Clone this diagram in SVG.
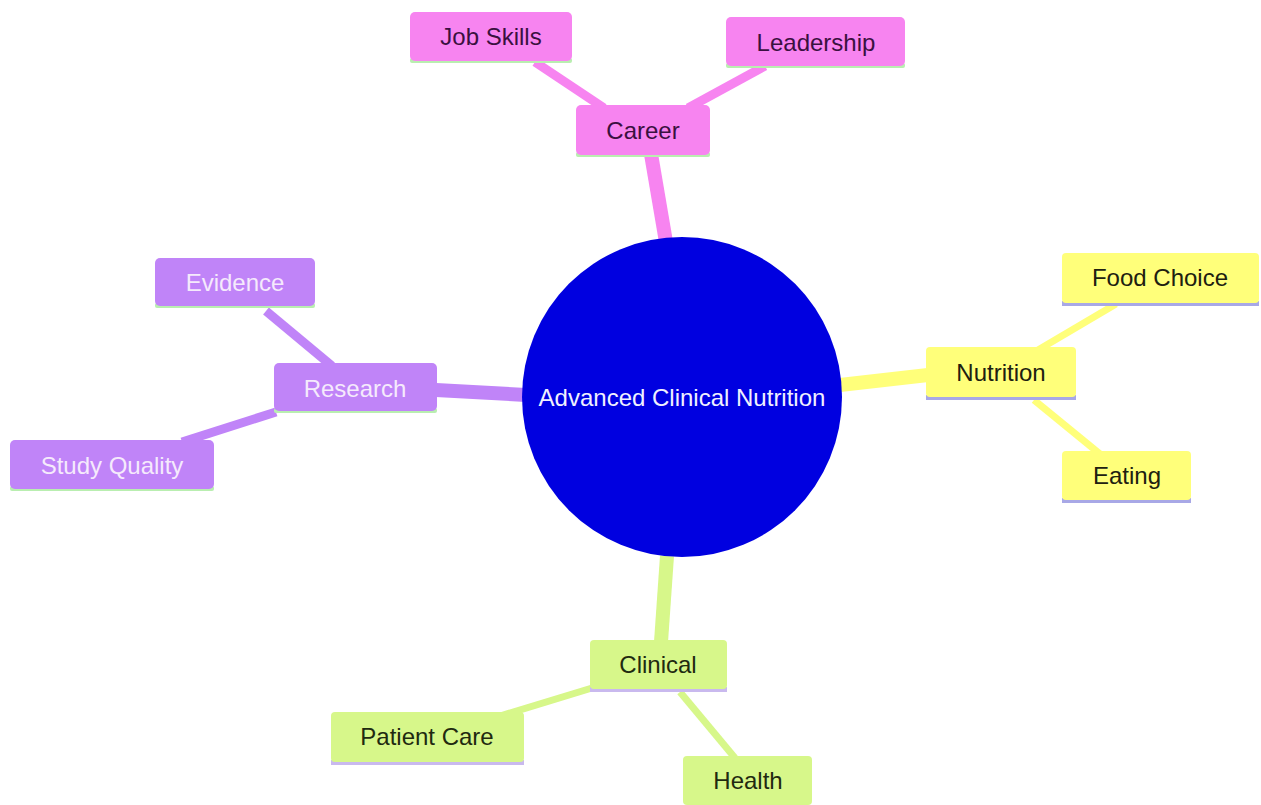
<svg xmlns="http://www.w3.org/2000/svg" width="1261" height="805" viewBox="0 0 1261 805">
<style>
text{font-family:"Liberation Sans",Arial,sans-serif;font-size:24px;text-anchor:middle;dominant-baseline:central}
.car rect.b{fill:#f784f0}
.res rect.b{fill:#c084f8}
.nut rect.b{fill:#ffff7a}
.cli rect.b{fill:#d7f78a}
.ulg{fill:#b9eeb0}
.ulp{fill:#a8a8e6}
.ulc{fill:#c9b9ee}
.tc{fill:#3a1040}
.tr{fill:#f5eafc}
.tn{fill:#202010}
.tk{fill:#1f2a10}
.lc{stroke:#f784f0;stroke-linecap:butt}
.lr{stroke:#c084f8}
.ln{stroke:#ffff7a}
.lk{stroke:#d7f78a}
</style>
<rect width="1261" height="805" fill="#ffffff"/>
<g id="connectors" fill="none">
<line class="lc" x1="666" y1="242" x2="651" y2="154" stroke-width="14"/>
<line class="lc" x1="604" y1="108" x2="535" y2="62" stroke-width="9"/>
<line class="lc" x1="688" y1="108" x2="765" y2="66" stroke-width="9"/>
<line class="lr" x1="436" y1="390" x2="526" y2="395" stroke-width="14"/>
<line class="lr" x1="332" y1="366" x2="266" y2="311" stroke-width="9"/>
<line class="lr" x1="276" y1="412" x2="182" y2="442" stroke-width="9"/>
<line class="ln" x1="840" y1="385" x2="928" y2="375" stroke-width="14"/>
<line class="ln" x1="1038" y1="350" x2="1116" y2="304" stroke-width="7"/>
<line class="ln" x1="1034" y1="400" x2="1100" y2="454" stroke-width="7"/>
<line class="lk" x1="667" y1="556" x2="661" y2="642" stroke-width="14"/>
<line class="lk" x1="592" y1="688" x2="500" y2="716" stroke-width="7"/>
<line class="lk" x1="680" y1="692" x2="735" y2="758" stroke-width="7"/>
</g>
<g id="root">
<circle cx="682" cy="397" r="160" fill="#0000e0"/>
<text x="682" y="397" fill="#f0f0ff">Advanced Clinical Nutrition</text>
</g>
<g id="career" class="car">
<rect class="ulg" x="576" y="152" width="134" height="5" rx="2"/>
<rect class="b" x="576" y="105" width="134" height="50" rx="5"/>
<text class="tc" x="643" y="130">Career</text>
</g>
<g id="jobskills" class="car">
<rect class="ulg" x="410" y="58" width="162" height="5" rx="2"/>
<rect class="b" x="410" y="12" width="162" height="49" rx="5"/>
<text class="tc" x="491" y="36">Job Skills</text>
</g>
<g id="leadership" class="car">
<rect class="ulg" x="726" y="63" width="179" height="5" rx="2"/>
<rect class="b" x="726" y="17" width="179" height="49" rx="5"/>
<text class="tc" x="816" y="42">Leadership</text>
</g>
<g id="research" class="res">
<rect class="ulg" x="274" y="408" width="163" height="5" rx="2"/>
<rect class="b" x="274" y="363" width="163" height="48" rx="5"/>
<text class="tr" x="355" y="388">Research</text>
</g>
<g id="evidence" class="res">
<rect class="ulg" x="155" y="303" width="160" height="5" rx="2"/>
<rect class="b" x="155" y="258" width="160" height="48" rx="5"/>
<text class="tr" x="235" y="282">Evidence</text>
</g>
<g id="studyquality" class="res">
<rect class="ulg" x="10" y="486" width="204" height="5" rx="2"/>
<rect class="b" x="10" y="440" width="204" height="49" rx="5"/>
<text class="tr" x="112" y="465">Study Quality</text>
</g>
<g id="nutrition" class="nut">
<rect class="ulp" x="926" y="395" width="150" height="5"/>
<rect class="b" x="926" y="347" width="150" height="50" rx="4"/>
<text class="tn" x="1001" y="372">Nutrition</text>
</g>
<g id="foodchoice" class="nut">
<rect class="ulp" x="1062" y="301" width="197" height="5"/>
<rect class="b" x="1062" y="253" width="197" height="50" rx="4"/>
<text class="tn" x="1160" y="277">Food Choice</text>
</g>
<g id="eating" class="nut">
<rect class="ulp" x="1062" y="498" width="129" height="5"/>
<rect class="b" x="1062" y="451" width="129" height="49" rx="4"/>
<text class="tn" x="1127" y="475">Eating</text>
</g>
<g id="clinical" class="cli">
<rect class="ulc" x="590" y="687" width="137" height="5"/>
<rect class="b" x="590" y="640" width="137" height="49" rx="4"/>
<text class="tk" x="658" y="664">Clinical</text>
</g>
<g id="patientcare" class="cli">
<rect class="ulc" x="331" y="760" width="193" height="5"/>
<rect class="b" x="331" y="712" width="193" height="50" rx="4"/>
<text class="tk" x="427" y="736">Patient Care</text>
</g>
<g id="health" class="cli">
<rect class="b" x="683" y="756" width="129" height="49" rx="4"/>
<text class="tk" x="748" y="780">Health</text>
</g>
</svg>
